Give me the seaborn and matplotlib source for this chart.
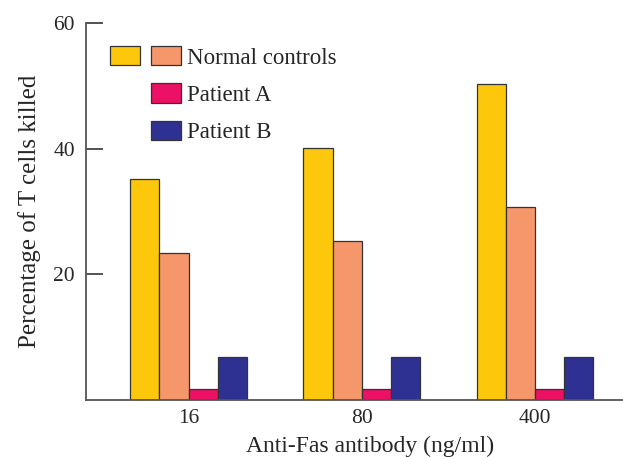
import pandas as pd
import matplotlib
matplotlib.use("Agg")
import matplotlib.pyplot as plt
import matplotlib.patches as mpatches
from matplotlib.legend_handler import HandlerTuple
import seaborn as sns

doses = ["16", "80", "400"]
normal_1 = [35.1, 40.1, 50.3]
normal_2 = [23.4, 25.3, 30.7]
patient_a = [1.7, 1.7, 1.7]
patient_b = [6.7, 6.7, 6.7]

series_names = ["Normal 1", "Normal 2", "Patient A", "Patient B"]
colors = ["#FDC70C", "#F5976B", "#EC1164", "#2E3192"]

rows = []
for name, vals in zip(series_names, [normal_1, normal_2, patient_a, patient_b]):
    for d, v in zip(doses, vals):
        rows.append({"dose": d, "group": name, "pct": v})
df = pd.DataFrame(rows)

sns.set_style("white")
plt.rcParams["font.family"] = ["Liberation Serif", "DejaVu Serif"]

fig = plt.figure(figsize=(6.23, 4.57), dpi=100)
ax = fig.add_axes([86 / 623, 1 - 399.5 / 457, 1 - 86 / 623, (399.5 - 23) / 457])

sns.barplot(data=df, x="dose", y="pct", hue="group", order=doses,
            hue_order=series_names, palette=colors, width=0.675,
            edgecolor="#333333", linewidth=0.9, saturation=1,
            legend=False, ax=ax)

ax.set_xlim(-0.592, 2.508)
ax.set_ylim(0, 60)
ax.set_yticks([20, 40, 60])
ax.tick_params(axis="y", direction="in", length=12, width=1.3, color="#444444",
               labelsize=15.5, pad=8, left=True)
ax.tick_params(axis="x", length=0, labelsize=15.5, pad=7)
for s in ["top", "right"]:
    ax.spines[s].set_visible(False)
for s in ["left", "bottom"]:
    ax.spines[s].set_color("#555555")
    ax.spines[s].set_linewidth(1.3)

ax.set_xlabel("Anti-Fas antibody (ng/ml)", fontsize=17)
ax.xaxis.set_label_coords(0.529, -0.1235)
ax.xaxis.label.set_va("center")
ax.set_ylabel("Percentage of T cells killed", fontsize=18, labelpad=9)

def box(c):
    return mpatches.Patch(facecolor=c, edgecolor="#333333", linewidth=0.9)

blank = mpatches.Patch(facecolor="none", edgecolor="none")
handles = [(box(colors[0]), box(colors[1])),
           (blank, box(colors[2])),
           (blank, box(colors[3]))]
labels = ["Normal controls", "Patient A", "Patient B"]
fig.legend(handles, labels, handler_map={tuple: HandlerTuple(ndivide=None, pad=0.52)},
           loc="upper left", bbox_to_anchor=(110 / 623, 1 - 46 / 457),
           bbox_transform=fig.transFigure, frameon=False, fontsize=16.5,
           handlelength=3.1, handleheight=0.92, handletextpad=0.26,
           labelspacing=0.65, borderpad=0, borderaxespad=0)

fig.savefig("out.png", dpi=100)
